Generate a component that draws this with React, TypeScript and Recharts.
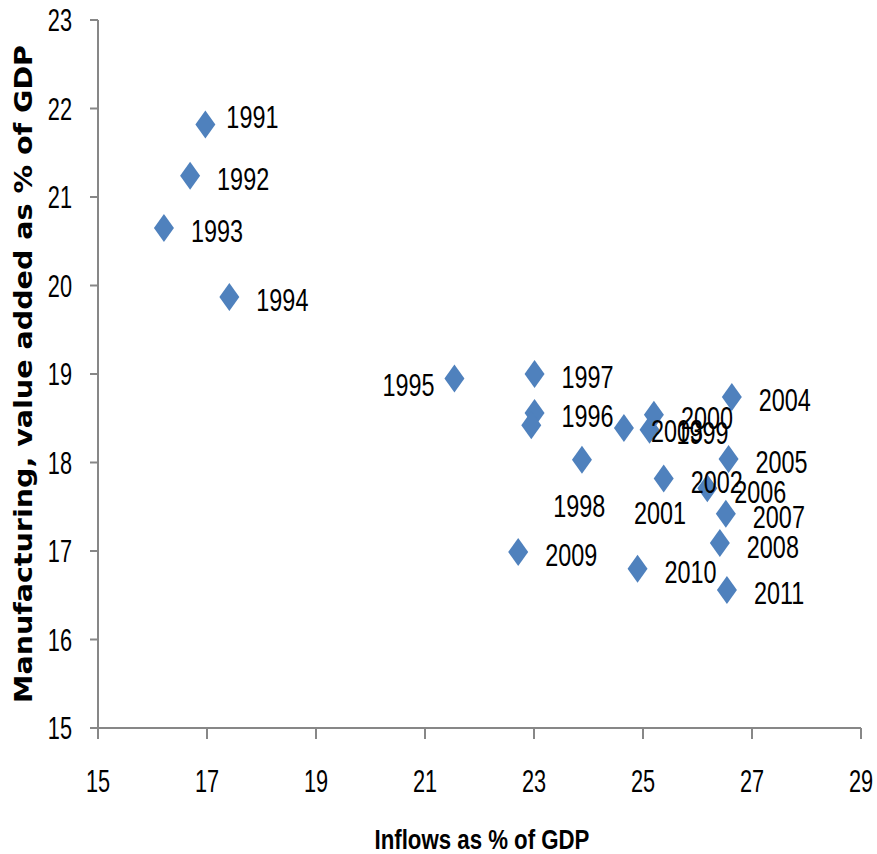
import React from 'react';
import { ScatterChart, Scatter, XAxis, YAxis } from 'recharts';

const years = [1991, 1992, 1993, 1994, 1995, 1996, 1997, 1998, 1999, 2000, 2001, 2002, 2003, 2004, 2005, 2006, 2007, 2008, 2009, 2010, 2011];
const inflows = [16.97, 16.69, 16.21, 17.41, 21.54, 23.01, 23.01, 22.95, 25.12, 25.2, 23.88, 25.38, 24.65, 26.63, 26.57, 26.18, 26.52, 26.41, 22.71, 24.9, 26.54];
const manufacturing = [21.82, 21.24, 20.65, 19.87, 18.95, 18.56, 19.0, 18.42, 18.37, 18.54, 18.03, 17.82, 18.39, 18.74, 18.04, 17.71, 17.42, 17.09, 16.99, 16.8, 16.56];
const xTicks = [15, 17, 19, 21, 23, 25, 27, 29];
const yTicks = [15, 16, 17, 18, 19, 20, 21, 22, 23];

const xTitle = 'Inflows as % of GDP';
const yTitle = 'Manufacturing, value added as % of GDP';

const data = years.map((year, i) => ({ year, x: inflows[i], y: manufacturing[i] }));

// label placement relative to the marker (default: to the right)
const defaultPlacement = { dx: 27, dy: 3, anchor: 'start' };
const labelPlacement: Record<number, { dx: number; dy: number; anchor: string }> = {
  1991: { dx: 21, dy: -8, anchor: 'start' },
  1995: { dx: -20, dy: 6, anchor: 'end' },
  1998: { dx: 22, dy: 80, anchor: 'start' },
  2001: { dx: 52, dy: 53, anchor: 'start' },
};

const FONT = "'Liberation Sans', Arial, sans-serif";
const BLUE = '#4F81BD';
const AXIS = '#878787';

const Diamond = (props: any) => {
  const { cx, cy } = props;
  if (cx == null || cy == null) return null;
  return (
    <polygon
      points={`${cx},${cy - 14} ${cx + 10},${cy} ${cx},${cy + 14} ${cx - 10},${cy}`}
      fill={BLUE}
    />
  );
};

const YearLabel = (props: any) => {
  const { cx, cy } = props;
  if (cx == null || cy == null) return null;
  const year = props.payload?.year ?? props.year;
  const p = labelPlacement[year] ?? defaultPlacement;
  const fs = 26;
  return (
    <g transform={`translate(${cx + p.dx},${cy + p.dy}) scale(0.9,1.23)`}>
      <text x={0} y={fs * 0.358} textAnchor={p.anchor as any} fontFamily={FONT} fontSize={fs} fill="#000">
        {year}
      </text>
    </g>
  );
};

const YTick = (props: any) => {
  const { x, y, payload } = props;
  const fs = 25;
  return (
    <g transform={`translate(${x},${y}) scale(0.87,1.23)`}>
      <text x={0} y={fs * 0.358} textAnchor="end" fontFamily={FONT} fontSize={fs} fill="#000">
        {payload.value}
      </text>
    </g>
  );
};

const XTick = (props: any) => {
  const { x, y, payload } = props;
  const fs = 25;
  return (
    <g transform={`translate(${x},${y}) scale(0.87,1.23)`}>
      <text x={0} y={fs * 0.358} textAnchor="middle" fontFamily={FONT} fontSize={fs} fill="#000">
        {payload.value}
      </text>
    </g>
  );
};

const XTitle = () => (
  <g transform="translate(482,849) scale(0.89,1.12)">
    <text x={0} y={0} textAnchor="middle" fontFamily={FONT} fontWeight={700} fontSize={25} fill="#000">
      {xTitle}
    </text>
  </g>
);

const YTitle = () => (
  <g transform="translate(32,374) rotate(-90) scale(1.19,1)">
    <text
      x={0}
      y={0}
      textAnchor="middle"
      fontFamily="'DejaVu Sans', sans-serif"
      fontWeight={700}
      fontSize={24}
      fill="#000"
    >
      {yTitle}
    </text>
  </g>
);

export default function App() {
  return (
    <div style={{ position: 'absolute', left: 0, top: 0, background: '#fff' }}>
      <ScatterChart width={877} height={854} margin={{ top: 20, right: 16, bottom: 0, left: 0 }}>
        <XAxis
          type="number"
          dataKey="x"
          domain={[15, 29]}
          ticks={xTicks}
          interval={0}
          height={126}
          tickSize={11}
          tickMargin={42}
          tick={<XTick />}
          axisLine={{ stroke: AXIS, strokeWidth: 2 }}
          tickLine={{ stroke: AXIS, strokeWidth: 2 }}
          label={{ content: () => <XTitle /> }}
        />
        <YAxis
          type="number"
          dataKey="y"
          domain={[15, 23]}
          ticks={yTicks}
          interval={0}
          width={98}
          tickSize={8}
          tickMargin={18}
          tick={<YTick />}
          axisLine={{ stroke: AXIS, strokeWidth: 2 }}
          tickLine={{ stroke: AXIS, strokeWidth: 2 }}
          label={{ content: () => <YTitle /> }}
        />
        <Scatter data={data} shape={<Diamond />} isAnimationActive={false} />
        <Scatter data={data} shape={<YearLabel />} isAnimationActive={false} />
      </ScatterChart>
    </div>
  );
}
